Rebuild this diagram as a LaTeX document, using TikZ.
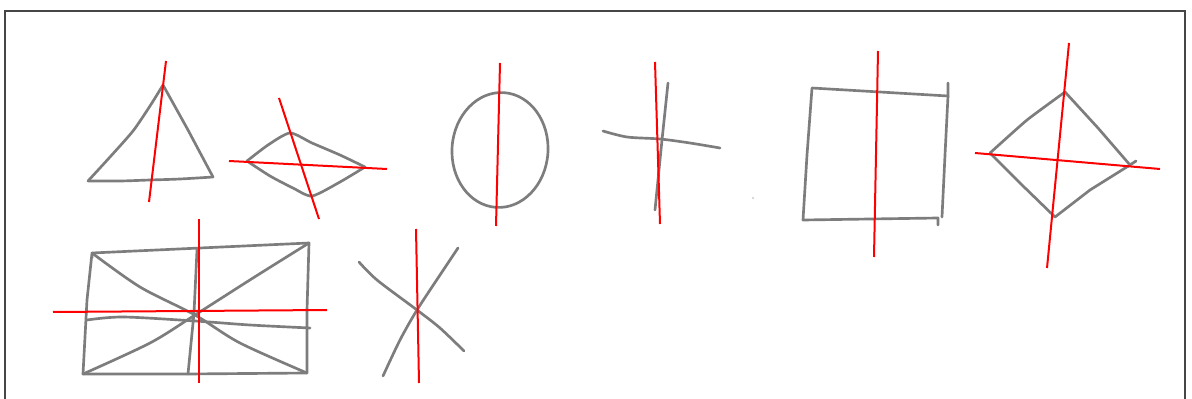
\documentclass[tikz,border=0pt]{standalone}
\begin{document}
\begin{tikzpicture}[x=0.75pt,y=-0.75pt,
  pencil/.style={draw={rgb,255:red,125;green,125;blue,125}, line width=2pt, line cap=round, line join=round},
  axis/.style={draw=red, line width=1.5pt},
  frame/.style={draw={rgb,255:red,70;green,70;blue,70}, line width=2pt}]
\useasboundingbox[fill=white] (0,0) rectangle (1192,399);
% frame (bottom edge cut off)
\draw[frame] (5,405) -- (5,11) -- (1185,11) -- (1185,405);
% triangle
\draw[pencil] plot[smooth, tension=0.4] coordinates {(88,181) (110,157) (133,131) (150,106) (163,85)};
\draw[pencil] (163,85) -- (188,130) -- (213,177);
\draw[pencil] plot[smooth, tension=0.5] coordinates {(213,177) (180,179) (150,180) (120,181) (88,181)};
\draw[axis] (166,61) -- (149,202);
% flat diamond
\draw[pencil] plot[smooth, tension=0.4] coordinates {(247,161) (268,145) (290,133) (312,143) (340,155) (365,167)};
\draw[pencil] plot[smooth, tension=0.4] coordinates {(247,161) (270,176) (293,188) (312,196) (340,182) (365,167)};
\draw[axis] (229,161) -- (387,169);
\draw[axis] (279,98) -- (319,219);
% circle
\draw[pencil, rotate around={-4:(500,150)}] (500,150) ellipse [x radius=48, y radius=57.5];
\draw[axis] (500,63) -- (496,226);
% cross
\draw[pencil] (668,83) -- (662,140) -- (655,210);
\draw[pencil] plot[smooth, tension=0.5] coordinates {(603,131) (627,137) (660,139) (690,143) (720,148)};
\draw[axis] (655,62) -- (660,224);
\fill[gray!40] (753,198) circle[radius=1.2];
% square
\draw[pencil] (948,83) -- (948,96) -- (880,92) -- (812,88) -- (807,155) -- (803,220) -- (870,219) -- (938,218) -- (938,225);
\draw[pencil] (948,96) -- (945,155) -- (942,217);
\draw[axis] (878,51) -- (874,257);
% tilted diamond
\draw[pencil] plot[smooth, tension=0.3] coordinates {(990,153) (1027,120) (1065,92)};
\draw[pencil] (1065,92) -- (1098,128) -- (1130,165) -- (1136,161);
\draw[pencil] (1130,165) -- (1090,190) -- (1055,217);
\draw[pencil] (1055,217) -- (1022,185) -- (990,153);
\draw[axis] (1069,43) -- (1047,268);
\draw[axis] (975,153) -- (1160,169);
% rectangle with diagonals
\draw[pencil] (92,258) -- (92,253) -- (200,248) -- (309,243) -- (307,310) -- (307,373) -- (187,374) -- (83,374) -- (87,300) -- (92,253);
\draw[pencil] plot[smooth, tension=0.5] coordinates {(92,253) (140,287) (195,315) (240,343) (307,373)};
\draw[pencil] plot[smooth, tension=0.5] coordinates {(83,374) (150,343) (195,315) (253,278) (309,243)};
\draw[pencil] plot[smooth, tension=0.5] coordinates {(87,320) (123,317) (195,321) (250,325) (310,328)};
\draw[pencil] (197,250) -- (194,313) -- (188,374);
\draw[axis] (199,219) -- (199,383);
\draw[axis] (53,312) -- (327,310);
% X shape
\draw[pencil] plot[smooth, tension=0.5] coordinates {(359,262) (377,280) (417,310) (440,328) (464,351)};
\draw[pencil] plot[smooth, tension=0.5] coordinates {(458,248) (440,275) (417,310) (400,340) (383,376)};
\draw[axis] (416,229) -- (419,383);
\end{tikzpicture}
\end{document}
